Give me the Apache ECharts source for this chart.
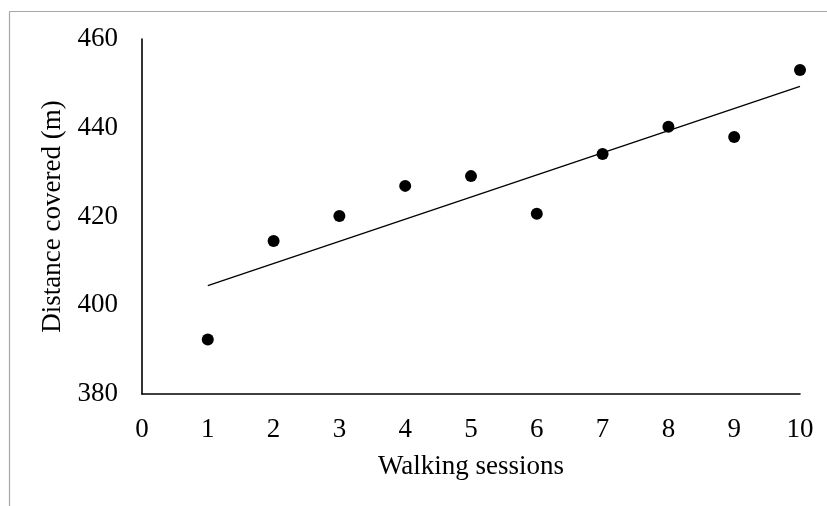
<!DOCTYPE html>
<html>
<head>
<meta charset="utf-8">
<script src="https://cdn.jsdelivr.net/npm/echarts@6/dist/echarts.min.js"></script>
<style>
html,body{margin:0;padding:0;background:#fff;}
#chart{width:827px;height:506px;}
</style>
</head>
<body>
<div id="chart"></div>
<script>
var sessions = [1, 2, 3, 4, 5, 6, 7, 8, 9, 10];
var distances = [392.3, 414.5, 420.1, 426.9, 429.1, 420.6, 434.1, 440.2, 437.9, 453.0];
var trendX = [1, 10];
var trendY = [404.4, 449.3];
var xTitle = 'Walking sessions';
var yTitle = 'Distance covered (m)';

var chart = echarts.init(document.getElementById('chart'));
var font = '"Liberation Serif", "Times New Roman", serif';
chart.setOption({
  animation: false,
  backgroundColor: '#fff',
  grid: { left: 142, right: 27, top: 39, bottom: 112 },
  graphic: [
    { type: 'line', shape: { x1: 9.5, y1: 11.5, x2: 827, y2: 11.5 }, style: { stroke: '#a6a6a6', lineWidth: 1.2 }, silent: true },
    { type: 'line', shape: { x1: 9.5, y1: 11.5, x2: 9.5, y2: 506 }, style: { stroke: '#a6a6a6', lineWidth: 1.2 }, silent: true }
  ],
  xAxis: {
    type: 'value', min: 0, max: 10, interval: 1,
    name: xTitle, nameLocation: 'middle', nameGap: 59,
    nameTextStyle: { fontFamily: font, fontSize: 27, color: '#000' },
    axisLine: { show: true, onZero: false, lineStyle: { color: '#000', width: 1.6 } },
    axisTick: { show: false },
    splitLine: { show: false },
    axisLabel: { fontFamily: font, fontSize: 27, color: '#000', margin: 22 }
  },
  yAxis: {
    type: 'value', min: 380, max: 460, interval: 20,
    name: yTitle, nameLocation: 'middle', nameGap: 76,
    nameTextStyle: { fontFamily: font, fontSize: 27, color: '#000' },
    axisLine: { show: true, lineStyle: { color: '#000', width: 1.6 } },
    axisTick: { show: false },
    splitLine: { show: false },
    axisLabel: { fontFamily: font, fontSize: 27, color: '#000', margin: 24 }
  },
  series: [
    {
      type: 'line',
      data: trendX.map(function (x, i) { return [x, trendY[i]]; }),
      showSymbol: false, symbol: 'none',
      lineStyle: { color: '#000', width: 1.3 },
      silent: true, z: 2
    },
    {
      type: 'scatter',
      data: sessions.map(function (x, i) { return [x, distances[i]]; }),
      symbol: 'circle', symbolSize: 12,
      itemStyle: { color: '#000', opacity: 1 },
      emphasis: { disabled: true },
      z: 3
    }
  ]
});
</script>
</body>
</html>
